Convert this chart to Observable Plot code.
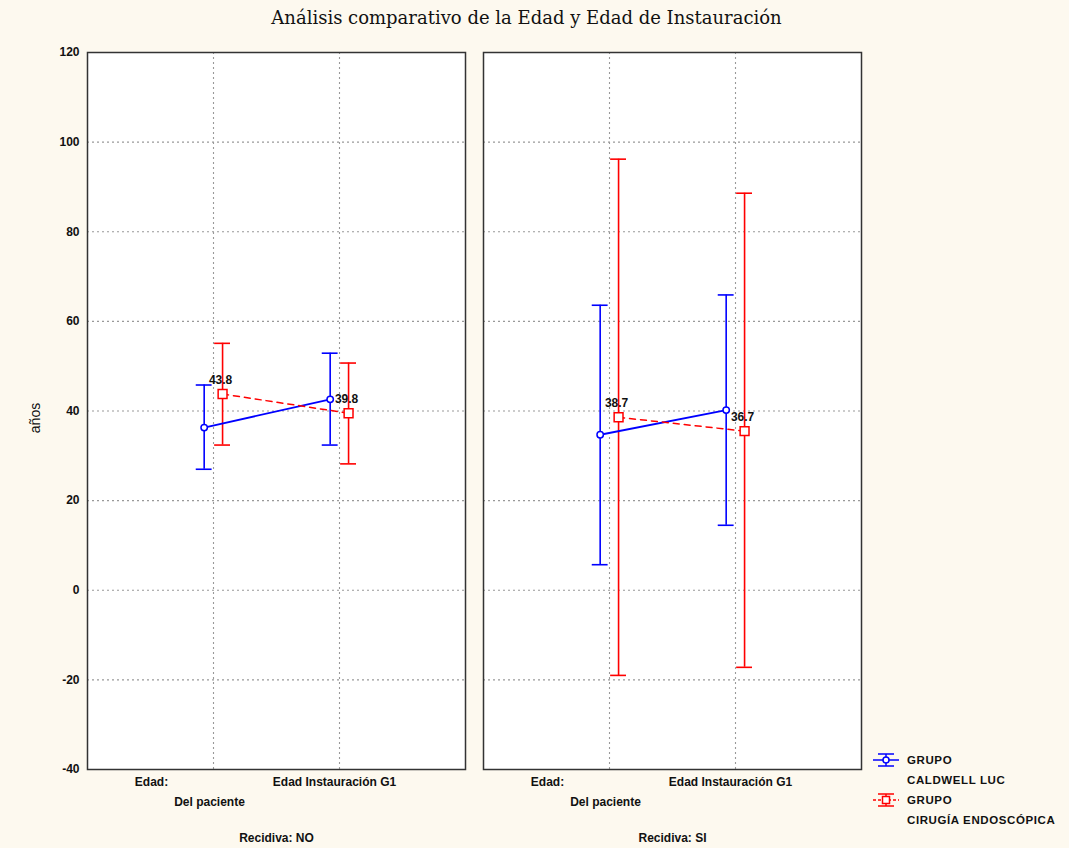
<!DOCTYPE html>
<html><head><meta charset="utf-8">
<script src="https://cdn.jsdelivr.net/npm/d3@7"></script>
<script src="https://cdn.jsdelivr.net/npm/@observablehq/plot@0.6"></script>
<style>
body{margin:0;background:#fdf9ef;width:1069px;height:848px;position:relative;overflow:hidden;font-family:"Liberation Sans",Arial,sans-serif;}
#title{position:absolute;left:0;top:7px;width:1053px;text-align:center;font-family:"DejaVu Serif",serif;font-size:18px;color:#111;}
#chart{position:absolute;left:0;top:40px;}
#ylabel{position:absolute;left:35px;top:418px;transform:translate(-50%,-50%) rotate(-90deg);font-size:14px;color:#111;}
#legend{position:absolute;left:873px;top:751px;font-weight:bold;font-size:11.5px;letter-spacing:0.6px;color:#111;}
#legend .row{position:relative;height:20px;line-height:18px;}
#legend svg{position:absolute;left:0;top:2px;}
#legend span{position:absolute;left:34px;white-space:nowrap;}
</style></head><body>
<div id="title">Análisis comparativo de la Edad y Edad de Instauración</div>
<div id="chart"></div>
<div id="ylabel">años</div>
<div id="legend"></div>
<script>
// ---- data ----
const recidiva = ["NO", "SI"];
const categories = ["Edad", "Edad Instauración G1"];
const groups = ["CALDWELL LUC", "CIRUGÍA ENDOSCÓPICA"];
const tickLine1 = ["Edad:", "Edad Instauración G1"];
const tickLine2 = ["Del paciente", ""];
const yTicks = [-40, -20, 0, 20, 40, 60, 80, 100, 120];
// order: NO-Edad, NO-Instauración, SI-Edad, SI-Instauración
const caldwellMean = [36.3, 42.6, 34.7, 40.2];
const caldwellLow  = [27.0, 32.4, 5.7, 14.5];
const caldwellHigh = [45.8, 52.9, 63.6, 65.9];
const endoMean = [43.8, 39.5, 38.6, 35.5];
const endoLow  = [32.4, 28.2, -19.0, -17.2];
const endoHigh = [55.1, 50.7, 96.2, 88.6];
const endoLabels = ["43.8", "39.8", "38.7", "36.7"];

// ---- table ----
const rows = [];
recidiva.forEach((r, ri) => categories.forEach((c, ci) => {
  const k = ri * 2 + ci;
  rows.push({rec: r, cat: c, ci: ci + 1, group: groups[0], mean: caldwellMean[k], lo: caldwellLow[k], hi: caldwellHigh[k], label: ""});
  rows.push({rec: r, cat: c, ci: ci + 1, group: groups[1], mean: endoMean[k], lo: endoLow[k], hi: endoHigh[k], label: endoLabels[k]});
}));
const blueRows = rows.filter(d => d.group === groups[0]);
const redRows = rows.filter(d => d.group === groups[1]);
const offset = {[groups[0]]: -0.074, [groups[1]]: 0.072};
const px = d => d.ci + offset[d.group];
const cap = 0.063;
const BLUE = "#0000ff", RED = "#ff0000";
const line1 = tickLine1.map((t, i) => ({pos: i + 1, text: t}));
const line2 = tickLine2.map((t, i) => ({pos: i + 1, text: t})).filter(d => d.text);
const gridStyle = {stroke: "#999", strokeOpacity: 1, strokeDasharray: "2,3", strokeWidth: 1.1};

const chart = Plot.plot({
  width: 1069, height: 808,
  marginTop: 12, marginLeft: 86, marginRight: 207, marginBottom: 79,
  style: {background: "transparent", fontFamily: "'Liberation Sans', Arial, sans-serif", color: "#111", overflow: "visible"},
  fx: {domain: recidiva, paddingInner: 0.0453, paddingOuter: 0, axis: null},
  x: {domain: [0, 3], axis: null},
  y: {domain: [-40, 120], axis: null},
  color: {domain: groups, range: [BLUE, RED]},
  marks: [
    Plot.frame({fill: "white"}),
    Plot.gridY(yTicks, gridStyle),
    Plot.gridX([1, 2], gridStyle),
    Plot.axisY(yTicks, {anchor: "left", tickSize: 0, tickPadding: 8, tickFormat: d => String(d), fontWeight: "bold", fontSize: 12, label: null}),
    Plot.text(line1.slice(0, 1), {x: "pos", text: "text", frameAnchor: "bottom", dy: 16, dx: -62, fontWeight: "bold", fontSize: 12}),
    Plot.text(line1.slice(1), {x: "pos", text: "text", frameAnchor: "bottom", dy: 16, dx: -5, fontWeight: "bold", fontSize: 12}),
    Plot.text(line2, {x: "pos", text: "text", frameAnchor: "bottom", dy: 36, dx: -4, fontWeight: "bold", fontSize: 12}),
    Plot.axisFx({anchor: "bottom", tickSize: 0, tickPadding: 64, tickFormat: d => `Recidiva: ${d}`, label: null, fontWeight: "bold", fontSize: 12}),
    // error bars
    Plot.ruleX(rows, {fx: "rec", x: px, y1: "lo", y2: "hi", stroke: "group", strokeWidth: 1.6}),
    Plot.ruleY(rows, {fx: "rec", y: "hi", x1: d => px(d) - cap, x2: d => px(d) + cap, stroke: "group", strokeWidth: 1.6}),
    Plot.ruleY(rows, {fx: "rec", y: "lo", x1: d => px(d) - cap, x2: d => px(d) + cap, stroke: "group", strokeWidth: 1.6}),
    // mean lines
    Plot.line(blueRows, {fx: "rec", x: px, y: "mean", stroke: BLUE, strokeWidth: 1.8}),
    Plot.line(redRows, {fx: "rec", x: px, y: "mean", stroke: RED, strokeWidth: 1.5, strokeDasharray: "6,5"}),
    // markers
    Plot.dot(blueRows, {fx: "rec", x: px, y: "mean", symbol: "circle", r: 3.2, fill: "white", stroke: BLUE, strokeWidth: 1.5}),
    Plot.dot(redRows, {fx: "rec", x: px, y: "mean", symbol: "square", r: 5, fill: "white", stroke: RED, strokeWidth: 1.5}),
    // value labels
    Plot.text(redRows, {fx: "rec", x: px, y: "mean", text: "label", dy: -14, dx: -2, fontWeight: "bold", fontSize: 12, fill: "#111"}),
    Plot.frame({stroke: "#333", strokeWidth: 1.5})
  ]
});
document.getElementById("chart").appendChild(chart);

// legend
const legend = document.getElementById("legend");
const items = [
  {color: BLUE, dash: null, marker: "circle", lines: ["GRUPO", groups[0]]},
  {color: RED, dash: "3,2", marker: "square", lines: ["GRUPO", groups[1]]}
];
items.forEach(it => {
  const r1 = document.createElement("div"); r1.className = "row";
  const da = it.dash ? `stroke-dasharray="${it.dash}"` : "";
  const mk = it.marker === "circle"
    ? `<circle cx="13" cy="7" r="3" fill="white" stroke="${it.color}" stroke-width="1.5"/>`
    : `<rect x="9.5" y="3.5" width="7" height="7" fill="white" stroke="${it.color}" stroke-width="1.5"/>`;
  r1.innerHTML = `<svg width="28" height="15"><line x1="5" x2="21" y1="1" y2="1" stroke="${it.color}" stroke-width="1.5"/><line x1="5" x2="21" y1="13" y2="13" stroke="${it.color}" stroke-width="1.5"/><line x1="13" x2="13" y1="1" y2="13" stroke="${it.color}" stroke-width="1.5"/><line x1="0" x2="26" y1="7" y2="7" stroke="${it.color}" stroke-width="1.5" ${da}/>${mk}</svg><span>${it.lines[0]}</span>`;
  const r2 = document.createElement("div"); r2.className = "row";
  r2.innerHTML = `<span>${it.lines[1]}</span>`;
  legend.appendChild(r1); legend.appendChild(r2);
});
</script>
</body></html>
